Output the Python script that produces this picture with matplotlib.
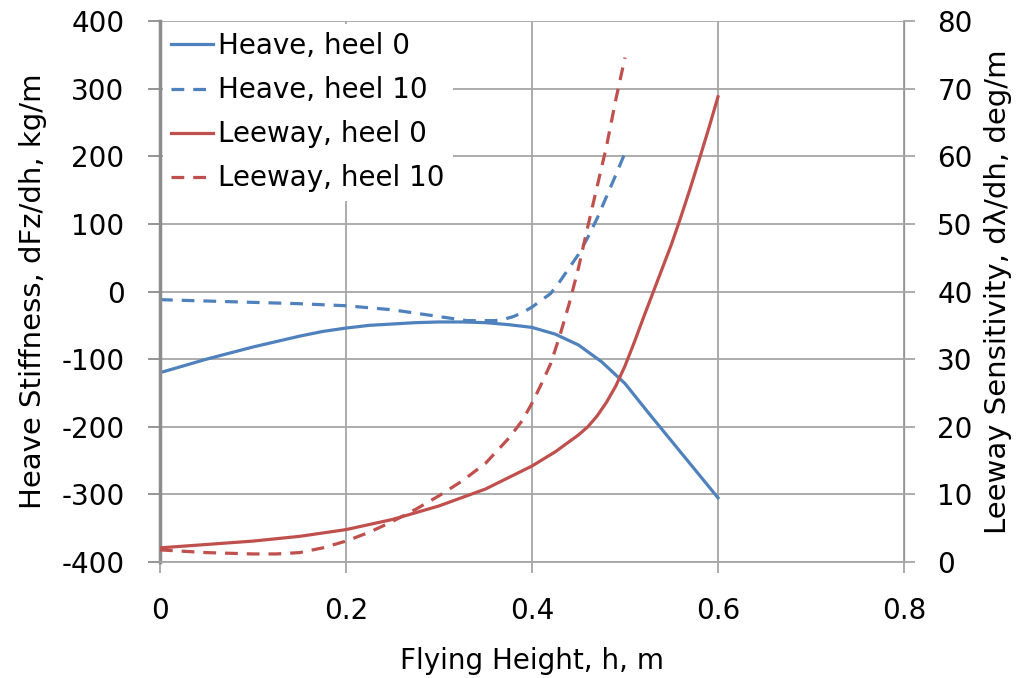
import matplotlib.pyplot as plt
import numpy as np

plt.rcParams['font.family'] = ['DejaVu Sans']
plt.rcParams['axes.unicode_minus'] = False

# heave stiffness (left axis, kg/m)
h_heave0 = [0, 0.025, 0.05, 0.075, 0.1, 0.125, 0.15, 0.175, 0.2, 0.225, 0.25, 0.275,
            0.3, 0.325, 0.35, 0.375, 0.4, 0.425, 0.45, 0.475, 0.5, 0.525, 0.55, 0.575, 0.6]
heave0 = [-120, -110, -100, -91, -82, -74, -66, -59, -54, -50, -48, -46,
          -45, -45, -46, -49, -53, -63, -79, -104, -136, -179, -221, -263, -305]

h_heave10 = [0, 0.05, 0.1, 0.15, 0.2, 0.25, 0.3, 0.33, 0.36, 0.37, 0.38, 0.39, 0.4,
             0.41, 0.42, 0.43, 0.44, 0.45, 0.46, 0.47, 0.48, 0.49, 0.5]
heave10 = [-12, -14, -16, -18, -21, -27, -37, -43, -43, -41, -37, -31, -23,
           -13, -3, 15, 35, 55, 80, 108, 140, 172, 205]

# leeway sensitivity (right axis, deg/m)
h_lee0 = [0, 0.05, 0.1, 0.15, 0.2, 0.25, 0.3, 0.35, 0.4, 0.425, 0.45, 0.46, 0.47,
          0.48, 0.49, 0.5, 0.51, 0.52, 0.53, 0.54, 0.55, 0.56, 0.57, 0.58, 0.59, 0.6]
lee0 = [2.1, 2.6, 3.1, 3.8, 4.8, 6.3, 8.3, 10.8, 14.2, 16.3, 18.8, 20, 21.6,
        23.6, 26, 29, 32.5, 36.2, 39.8, 43.4, 47, 51, 55.2, 59.6, 64.1, 68.8]

h_lee10 = [0, 0.025, 0.05, 0.075, 0.1, 0.125, 0.15, 0.175, 0.2, 0.225, 0.25, 0.275,
           0.3, 0.325, 0.35, 0.375, 0.39, 0.4, 0.41, 0.42, 0.43, 0.44, 0.45, 0.46,
           0.47, 0.48, 0.49, 0.5]
lee10 = [1.8, 1.6, 1.4, 1.3, 1.2, 1.2, 1.4, 2.1, 3.1, 4.4, 6.0, 7.8,
         9.8, 12.0, 14.6, 18.3, 21, 23.5, 26.3, 29.3, 33.5, 38.2, 43.5, 49.6,
         55.5, 61.4, 68.3, 74.6]

blue = '#4F81BD'
red = '#C0504D'
grid_c = '#A6A6A6'
fs = 20
dash = (0, (4, 2.8))

fig = plt.figure(figsize=(10.36, 6.78), dpi=100)
ax = fig.add_axes([0.1544, 0.171, 0.7182, 0.798])
ax2 = ax.twinx()

l1, = ax.plot(h_heave0, heave0, color=blue, lw=2.3, label='Heave, heel 0')
l2, = ax.plot(h_heave10, heave10, color=blue, lw=2.3, ls=dash, label='Heave, heel 10')
l3, = ax2.plot(h_lee0, lee0, color=red, lw=2.3, label='Leeway, heel 0')
l4, = ax2.plot(h_lee10, lee10, color=red, lw=2.3, ls=dash, label='Leeway, heel 10')

ax.set_xlim(0, 0.8)
ax.set_ylim(-400, 400)
ax2.set_ylim(0, 80)
ax.set_xticks(np.arange(0, 0.81, 0.2))
ax.set_xticklabels(['0', '0.2', '0.4', '0.6', '0.8'])
ax.set_yticks(np.arange(-400, 401, 100))
ax2.set_yticks(np.arange(0, 81, 10))

ax.grid(True, color=grid_c, lw=1.3)
ax.set_axisbelow(True)
ax.spines['top'].set_visible(False)
ax2.spines['top'].set_visible(False)
ax.spines['left'].set_color('#8C8C8C')
ax.spines['left'].set_linewidth(2.5)
ax.spines['bottom'].set_color(grid_c)
ax.spines['bottom'].set_linewidth(1.3)
ax2.spines['right'].set_color(grid_c)
ax2.spines['right'].set_linewidth(1.3)
ax2.spines['left'].set_visible(False)
ax2.spines['bottom'].set_visible(False)

ax.tick_params(axis='x', labelsize=fs, length=8, width=1.3, color=grid_c, pad=17)
ax.tick_params(axis='y', labelsize=fs, length=8.5, width=1.3, color='#8C8C8C', pad=17)
ax2.tick_params(axis='y', labelsize=fs, length=8, width=1.3, color=grid_c, pad=16)

ax.set_xlabel('Flying Height, h, m', fontsize=fs, labelpad=16)
ax.set_ylabel('Heave Stiffness, dFz/dh, kg/m', fontsize=21, labelpad=10)
ax2.set_ylabel('Leeway Sensitivity, dλ/dh, deg/m', fontsize=21, labelpad=8)

leg = ax2.legend(handles=[l1, l2, l3, l4], loc='upper left', bbox_to_anchor=(0.0, 1.0),
                 fontsize=fs, frameon=True, fancybox=False, framealpha=1,
                 edgecolor='white', handlelength=1.5, handletextpad=0.2,
                 borderpad=0.3, labelspacing=0.58, borderaxespad=0.1)
leg.get_frame().set_linewidth(0)

fig.savefig('out.png', dpi=100)
